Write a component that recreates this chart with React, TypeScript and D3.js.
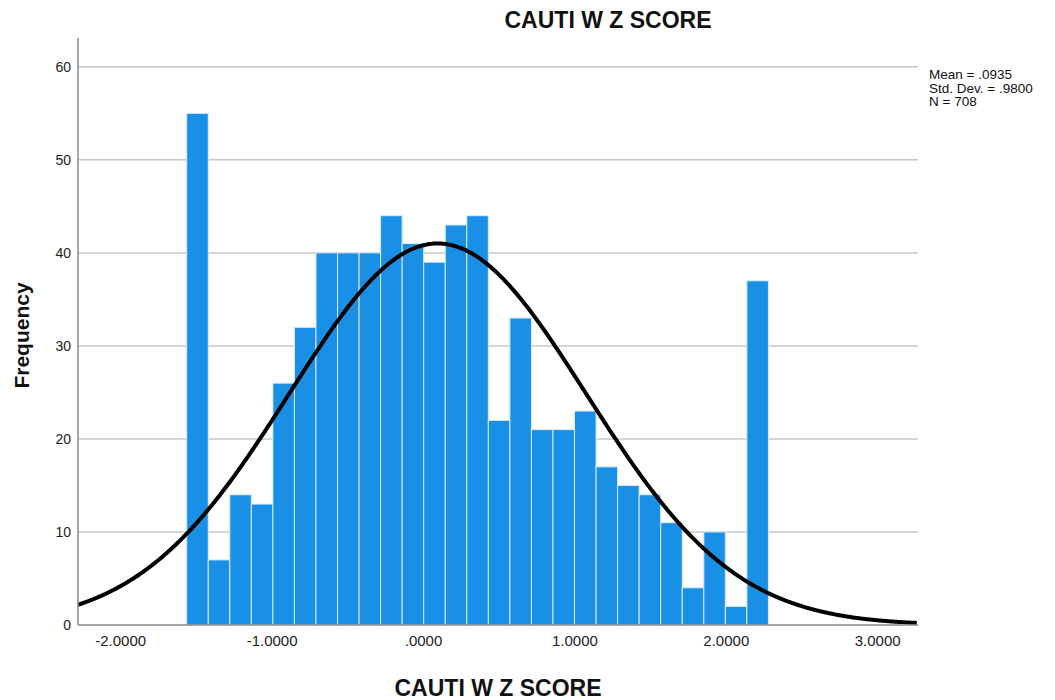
import React from 'react';
import * as d3 from 'd3';

// histogram counts, 27 equal-width bins
const counts = [55, 7, 14, 13, 26, 32, 40, 40, 40, 44, 41, 39, 43, 44, 22, 33, 21, 21, 23, 17, 15, 14, 11, 4, 10, 2, 37];
const binStart = -1.564;
const binWidth = 0.1423;

const xTicks = [-2, -1, 0, 1, 2, 3];
const xTickLabels = ['-2.0000', '-1.0000', '.0000', '1.0000', '2.0000', '3.0000'];
const yTicks = [0, 10, 20, 30, 40, 50, 60];

const mean = 0.0935;
const sd = 0.98;
const n = 708;
const statLines = ['Mean = .0935', 'Std. Dev. = .9800', 'N = 708'];

const W = 1055;
const H = 700;
const left = 78, right = 918, top = 38, bottom = 625;

const App: React.FC = () => {
  const x = d3.scaleLinear().domain([-2.282, 3.266]).range([left, right]);
  const y = d3.scaleLinear().domain([0, 63.1]).range([bottom, top]);

  // fitted normal curve scaled to counts
  const pdf = (v: number) => {
    const z = (v - mean) / sd;
    return (n * binWidth * Math.exp(-0.5 * z * z)) / (sd * Math.sqrt(2 * Math.PI));
  };
  const curvePts = d3.range(x.domain()[0], x.domain()[1] + 0.001, 0.01).map((v) => [v, pdf(v)] as [number, number]);
  const line = d3.line<[number, number]>().x((d) => x(d[0])).y((d) => y(d[1])).curve(d3.curveBasis);

  const font = '"Liberation Sans", Arial, sans-serif';

  return (
    <div style={{ position: 'fixed', left: 0, top: 0, background: '#fff' }}>
      <svg width={W} height={H} style={{ display: 'block', fontFamily: font }}>
        <rect width={W} height={H} fill="#fff" />
        {/* gridlines */}
        {yTicks.filter((t) => t > 0).map((t) => (
          <line key={t} x1={left} x2={right} y1={y(t)} y2={y(t)} stroke="#c8c8c8" strokeWidth={1.5} />
        ))}
        {/* bars */}
        {counts.map((c, i) => {
          const x0 = x(binStart + i * binWidth);
          const x1 = x(binStart + (i + 1) * binWidth);
          return (
            <rect key={i} x={x0} y={y(c)} width={x1 - x0} height={y(0) - y(c)}
              fill="#1a8fe6" stroke="#d8ecff" strokeWidth={1} />
          );
        })}
        {/* normal curve */}
        <path d={line(curvePts) || ''} fill="none" stroke="#000" strokeWidth={4} />
        {/* axes */}
        <line x1={left} x2={left} y1={top} y2={bottom} stroke="#888" strokeWidth={1.5} />
        <line x1={left} x2={right} y1={bottom} y2={bottom} stroke="#888" strokeWidth={1.5} />
        {yTicks.map((t) => (
          <text key={t} x={left - 7} y={y(t)} dy="0.35em" textAnchor="end" fontSize={14} fill="#222">{t}</text>
        ))}
        {xTicks.map((t, i) => (
          <text key={t} x={x(t)} y={bottom + 21} textAnchor="middle" fontSize={15} fill="#222">{xTickLabels[i]}</text>
        ))}
        {/* titles */}
        <text x={608} y={28} textAnchor="middle" fontSize={23} fontWeight="bold" fill="#111">CAUTI W Z SCORE</text>
        <text x={(left + right) / 2} y={696} textAnchor="middle" fontSize={23} fontWeight="bold" fill="#111">CAUTI W Z SCORE</text>
        <text transform={`translate(29,${(top + bottom) / 2 + 4}) rotate(-90)`} textAnchor="middle" fontSize={21} fontWeight="bold" fill="#111">Frequency</text>
        {statLines.map((s, i) => (
          <text key={s} x={929} y={79 + i * 13.5} fontSize={13.5} fill="#111">{s}</text>
        ))}
      </svg>
    </div>
  );
};

export default App;
